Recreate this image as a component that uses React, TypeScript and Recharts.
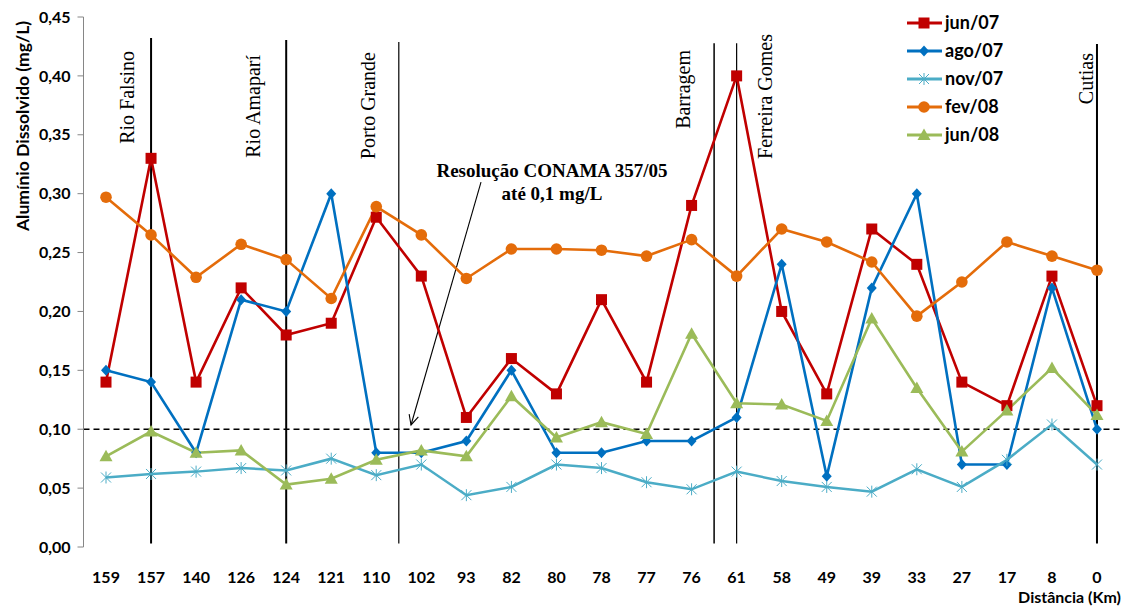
import React from 'react';
import { LineChart, Line, XAxis, YAxis, ReferenceLine, Legend, Customized } from 'recharts';

// ---- data ----
const distances = ['159', '157', '140', '126', '124', '121', '110', '102', '93', '82', '80', '78', '77', '76', '61', '58', '49', '39', '33', '27', '17', '8', '0'];
const jun07 = [0.14, 0.33, 0.14, 0.22, 0.18, 0.19, 0.28, 0.23, 0.11, 0.16, 0.13, 0.21, 0.14, 0.29, 0.40, 0.20, 0.13, 0.27, 0.24, 0.14, 0.12, 0.23, 0.12];
const ago07 = [0.15, 0.14, 0.08, 0.21, 0.20, 0.30, 0.08, 0.08, 0.09, 0.15, 0.08, 0.08, 0.09, 0.09, 0.11, 0.24, 0.06, 0.22, 0.30, 0.07, 0.07, 0.22, 0.10];
const nov07 = [0.059, 0.062, 0.064, 0.067, 0.065, 0.075, 0.061, 0.070, 0.044, 0.051, 0.070, 0.067, 0.055, 0.049, 0.064, 0.056, 0.051, 0.047, 0.066, 0.051, 0.074, 0.104, 0.070];
const fev08 = [0.297, 0.265, 0.229, 0.257, 0.244, 0.211, 0.289, 0.265, 0.228, 0.253, 0.253, 0.252, 0.247, 0.261, 0.230, 0.270, 0.259, 0.242, 0.196, 0.225, 0.259, 0.247, 0.235];
const jun08 = [0.077, 0.098, 0.080, 0.082, 0.053, 0.058, 0.074, 0.082, 0.077, 0.128, 0.093, 0.106, 0.096, 0.181, 0.122, 0.121, 0.107, 0.194, 0.135, 0.081, 0.116, 0.152, 0.112];
const yTicks = [0, 0.05, 0.1, 0.15, 0.2, 0.25, 0.3, 0.35, 0.4, 0.45];
const conamaLimit = 0.1;

const seriesDefs = [
  { key: 'jun07', name: 'jun/07', values: jun07, color: '#C00000', shape: 'square' },
  { key: 'ago07', name: 'ago/07', values: ago07, color: '#0070C0', shape: 'diamond' },
  { key: 'nov07', name: 'nov/07', values: nov07, color: '#4BACC6', shape: 'star' },
  { key: 'fev08', name: 'fev/08', values: fev08, color: '#E46C0A', shape: 'circle' },
  { key: 'jun08', name: 'jun/08', values: jun08, color: '#9BBB59', shape: 'triangle' },
];

// site annotations (position on category index axis)
const sites = [
  { name: 'Rio Falsino', at: 1, top: 0.4321, w: 2, dx: -17, textTop: 51 },
  { name: 'Rio Amaparí', at: 4, top: 0.4304, w: 2, dx: -26, textTop: 55 },
  { name: 'Porto Grande', at: 6.5, top: 0.4287, w: 1.2, dx: -24, textTop: 52 },
  { name: 'Barragem', at: 13.5, top: 0.4278, w: 1.5, dx: -24, textTop: 50 },
  { name: 'Ferreira Gomes', at: 14, top: 0.4278, w: 1.2, dx: 35, textTop: 34 },
  { name: 'Cutias', at: 22, top: 0.427, w: 2, dx: -4, textTop: 53 },
];

const data = distances.map((d, i) => {
  const row: any = { dist: d, i };
  seriesDefs.forEach((s) => { row[s.key] = s.values[i]; });
  return row;
});
const boundaryTicks = [...distances.map((_, i) => i - 0.5), distances.length - 0.5];

const LABEL_FONT = "Lato, 'Open Sans', sans-serif";
const SERIF = "'Liberation Serif', 'DejaVu Serif', serif";

function MarkerShape({ shape, color, cx, cy }: any) {
  if (cx == null || cy == null) return null;
  switch (shape) {
    case 'square':
      return <rect x={cx - 5.5} y={cy - 5.5} width={11} height={11} fill={color} />;
    case 'diamond':
      return <path d={`M${cx},${cy - 5.5}L${cx + 5},${cy}L${cx},${cy + 5.5}L${cx - 5},${cy}Z`} fill={color} />;
    case 'star':
      return (
        <g stroke={color} strokeWidth={1}>
          <line x1={cx - 5} y1={cy - 5} x2={cx + 5} y2={cy + 5} />
          <line x1={cx - 5} y1={cy + 5} x2={cx + 5} y2={cy - 5} />
          <line x1={cx} y1={cy - 6} x2={cx} y2={cy + 6} />
        </g>
      );
    case 'circle':
      return <circle cx={cx} cy={cy} r={5.8} fill={color} />;
    case 'triangle':
      return <path d={`M${cx},${cy - 6.5}L${cx + 6.5},${cy + 5}L${cx - 6.5},${cy + 5}Z`} fill={color} />;
    default:
      return null;
  }
}

const renderLegend = () => (
  <svg width={130} height={145} style={{ display: 'block' }}>
    {seriesDefs.map((s, k) => {
      const y = 14 + k * 28;
      return (
        <g key={s.key}>
          <line x1={2} x2={37} y1={y} y2={y} stroke={s.color} strokeWidth={3} />
          <MarkerShape shape={s.shape} color={s.color} cx={19} cy={y} />
          <text x={40} y={y + 6} fontFamily={LABEL_FONT} fontWeight={700} fontSize={18} fill="#000">{s.name}</text>
        </g>
      );
    })}
  </svg>
);

const Texts = () => (
  <g>
    <g fontFamily={SERIF} fontWeight={700} fontSize={19} textAnchor="middle" fill="#000">
      <text x={552} y={177}>Resolução CONAMA 357/05</text>
      <text x={552} y={200}>até 0,1 mg/L</text>
    </g>
    <text transform="translate(29,126) rotate(-90)" textAnchor="middle" fontFamily={LABEL_FONT} fontWeight={700} fontSize={17.5} fill="#000">
      Alumínio Dissolvido (mg/L)
    </text>
    <text x={1121} y={603} textAnchor="end" fontFamily={LABEL_FONT} fontWeight={700} fontSize={16} fill="#000">
      Distância (Km)
    </text>
  </g>
);

const arrowShape = (p: any) => {
  const { x1, y1, x2, y2 } = p;
  if ([x1, y1, x2, y2].some((v) => v == null || isNaN(v))) return null;
  const tipX = y1 > y2 ? x1 : x2;
  const tipY = y1 > y2 ? y1 : y2;
  const tailX = y1 > y2 ? x2 : x1;
  const tailY = y1 > y2 ? y2 : y1;
  const ang = Math.atan2(tipY - tailY, tipX - tailX);
  const len = 11;
  const spread = 0.45;
  const a1x = tipX - len * Math.cos(ang - spread);
  const a1y = tipY - len * Math.sin(ang - spread);
  const a2x = tipX - len * Math.cos(ang + spread);
  const a2y = tipY - len * Math.sin(ang + spread);
  return (
    <g stroke="#000" strokeWidth={1.1} fill="none">
      <line x1={tailX} y1={tailY} x2={tipX} y2={tipY} />
      <polyline points={`${a1x},${a1y} ${tipX},${tipY} ${a2x},${a2y}`} />
    </g>
  );
};

export default function App() {
  return (
    <div style={{ position: 'absolute', left: 0, top: 0, background: '#fff' }}>
      <LineChart width={1127} height={610} data={data} margin={{ top: 17, right: 7.5, left: 0, bottom: 0 }}>
        <XAxis
          xAxisId="t"
          type="number"
          dataKey="i"
          domain={[-0.5, distances.length - 0.5]}
          ticks={boundaryTicks}
          allowDataOverflow
          height={0}
          axisLine={{ stroke: '#868686', strokeWidth: 1 }}
          tickLine={{ stroke: '#868686' }}
          tickSize={5}
          tick={false}
        />
        <XAxis
          dataKey="dist"
          type="category"
          padding={{ left: 22.5, right: 22.5 }}
          height={63}
          interval={0}
          axisLine={false}
          tickLine={false}
          tickSize={0}
          tickMargin={25}
          tick={{ fill: '#000', fontFamily: LABEL_FONT, fontWeight: 700, fontSize: 16 }}
        />
        <YAxis
          width={83.5}
          domain={[0, 0.45]}
          ticks={yTicks}
          interval={0}
          tickFormatter={(v: number) => v.toFixed(2).replace('.', ',')}
          axisLine={{ stroke: '#868686' }}
          tickLine={{ stroke: '#868686' }}
          tickSize={6}
          tickMargin={7}
          tick={{ fill: '#000', fontFamily: LABEL_FONT, fontWeight: 700, fontSize: 16 }}
        />
        <ReferenceLine y={conamaLimit} stroke="#000" strokeWidth={1.5} strokeDasharray="6 4" />
        {sites.map((s) => (
          <ReferenceLine
            key={s.name}
            xAxisId="t"
            segment={[{ x: s.at, y: s.top }, { x: s.at, y: 0.003 }]}
            stroke="#000"
            strokeWidth={s.w}
            label={(lp: any) => {
              const vb = lp && lp.viewBox;
              if (!vb || vb.x == null) return null;
              const x = vb.x + s.dx;
              return (
                <text transform={`translate(${x},${s.textTop}) rotate(-90)`} textAnchor="end" fontFamily={SERIF} fontSize={20} fill="#000">
                  {s.name}
                </text>
              );
            }}
          />
        ))}
        <ReferenceLine
          xAxisId="t"
          segment={[{ x: 8.325, y: 0.3098 }, { x: 6.771, y: 0.1036 }]}
          shape={arrowShape}
        />
        {seriesDefs.map((s) => (
          <Line
            key={s.key}
            dataKey={s.key}
            name={s.name}
            stroke={s.color}
            strokeWidth={s.shape === 'star' ? 2.5 : 2.6}
            isAnimationActive={false}
            dot={(p: any) => <MarkerShape key={`${s.key}-${p.index}`} shape={s.shape} color={s.color} cx={p.cx} cy={p.cy} />}
            activeDot={false}
          />
        ))}
        <Legend
          layout="vertical"
          align="center"
          verticalAlign="middle"
          content={renderLegend}
          wrapperStyle={{ position: 'absolute', left: 905, top: 9, width: 130, height: 145 }}
        />
        <Customized component={Texts} />
      </LineChart>
    </div>
  );
}
